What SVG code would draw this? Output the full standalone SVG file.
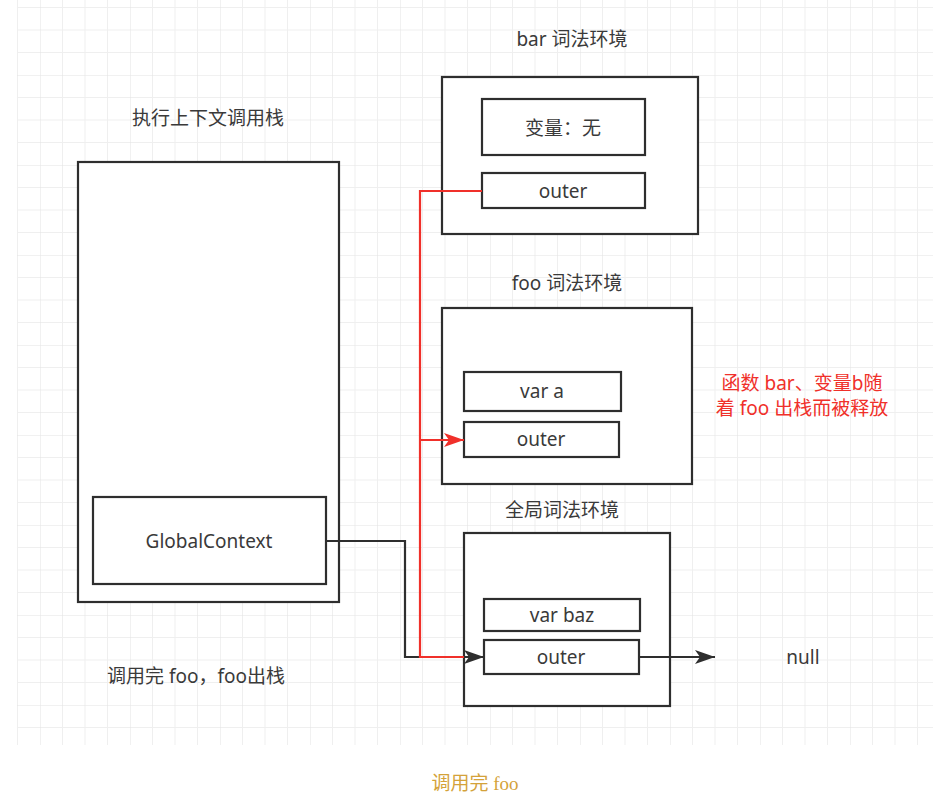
<svg xmlns="http://www.w3.org/2000/svg" width="946" height="806" viewBox="0 0 946 806">
<style>
.t{font-family:"Noto Sans","Noto Sans CJK SC",sans-serif;font-size:19px;fill:#3a3a3a;text-anchor:middle}
.red{fill:#f0302a}
.box{fill:#fff;stroke:#2e2e2e;stroke-width:2.2}
.ln{fill:none;stroke:#2e2e2e;stroke-width:2.2}
.rl{fill:none;stroke:#f0302a;stroke-width:2.2}
.cap{font-family:"Liberation Serif","Noto Sans CJK SC",serif;font-size:19px;fill:#d4a23a;text-anchor:middle}
</style>
<defs>
<pattern id="grid" patternUnits="userSpaceOnUse" x="40" y="75" width="90" height="90">
<path d="M22.5 0V90M45 0V90M67.5 0V90M0 22.5H90M0 45H90M0 67.5H90" stroke="#efefef" stroke-width="1" fill="none"/>
<path d="M0 0V90M0 0H90" stroke="#e3e3e3" stroke-width="1" fill="none"/>
</pattern>
<marker id="ab" viewBox="0 0 20 14" refX="20" refY="7" markerWidth="20" markerHeight="14" markerUnits="userSpaceOnUse" orient="auto">
<path d="M0 0L20 7L0 14L5 7z" fill="#2e2e2e"/>
</marker>
<marker id="ar" viewBox="0 0 20 14" refX="20" refY="7" markerWidth="20" markerHeight="14" markerUnits="userSpaceOnUse" orient="auto">
<path d="M0 0L20 7L0 14L5 7z" fill="#f0302a"/>
</marker>
</defs>
<rect width="946" height="806" fill="#fff"/>
<rect x="17" y="0" width="916" height="745" fill="url(#grid)"/>

<g id="stack">
<text class="t" x="208" y="125">执行上下文调用栈</text>
<rect class="box" x="78" y="162" width="261" height="440"/>
</g>
<g id="globalContext">
<rect class="box" x="93" y="497" width="233" height="87"/>
<text class="t" x="209" y="548">GlobalContext</text>
</g>

<g id="barEnv">
<text class="t" x="572" y="46">bar 词法环境</text>
<rect class="box" x="442" y="77" width="256" height="157"/>
<rect class="box" x="482" y="99" width="163" height="56"/>
<text class="t" x="563" y="135">变量：无</text>
<rect class="box" x="482" y="173" width="163" height="35"/>
<text class="t" x="563" y="198">outer</text>
</g>

<g id="fooEnv">
<text class="t" x="567" y="290">foo 词法环境</text>
<rect class="box" x="442" y="308" width="250" height="176"/>
<rect class="box" x="464" y="372" width="157" height="39"/>
<text class="t" x="542" y="398">var a</text>
<rect class="box" x="464" y="422" width="155" height="35"/>
<text class="t" x="541" y="446">outer</text>
</g>

<g id="globalEnv">
<text class="t" x="562" y="517">全局词法环境</text>
<rect class="box" x="464" y="533" width="206" height="173"/>
<rect class="box" x="484" y="599" width="156" height="32"/>
<text class="t" x="562" y="622">var baz</text>
<rect class="box" x="484" y="640" width="155" height="34"/>
<text class="t" x="561" y="664">outer</text>
</g>

<g id="null"><text class="t" x="803" y="664">null</text></g>

<g id="note">
<text class="t red" x="802" y="390">函数 bar、变量b随</text>
<text class="t red" x="802" y="415">着 foo 出栈而被释放</text>
</g>

<g id="labels">
<text class="t" x="196" y="683">调用完 foo，foo出栈</text>
<text class="cap" x="475" y="790">调用完 foo</text>
</g>

<g id="connectors">
<path class="ln" d="M326 541H405V657H484" marker-end="url(#ab)"/>
<path class="rl" d="M482 191H420V657H464"/>
<path class="rl" d="M420 440H464" marker-end="url(#ar)"/>
<path class="ln" d="M639 657H715" marker-end="url(#ab)"/>
</g>
</svg>
